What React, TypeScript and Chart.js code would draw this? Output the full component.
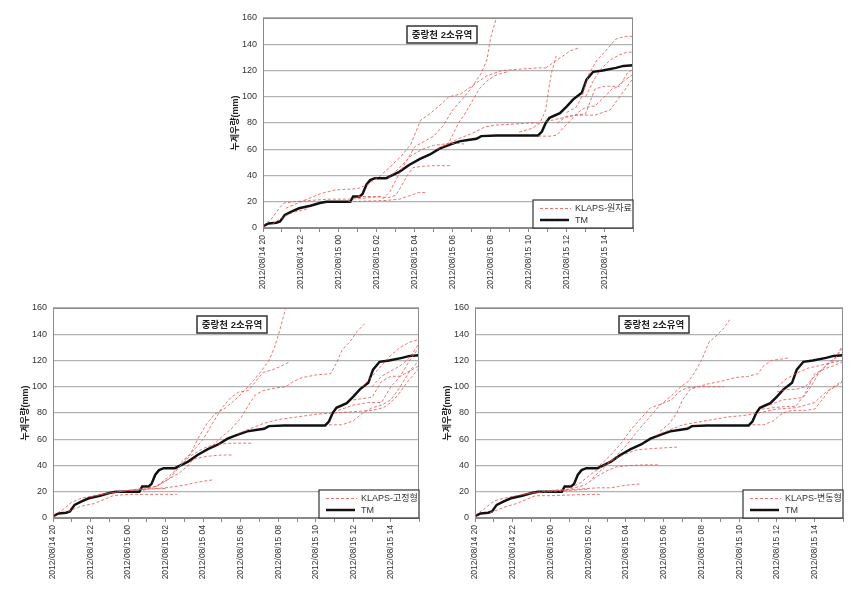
import React, { useEffect, useRef } from 'react';
import { Chart, registerables } from 'chart.js';

Chart.register(...registerables);

// ---- data ----
const panelTitle = '중랑천 2소유역';
const yAxisTitle = '누계우량(mm)';
const startDay = 14;
const startHour = 20;
const xMaxHours = 19.5;
const yMin = 0;
const yMax = 160;
const yStep = 20;

// observed (TM): [hours since 2012/08/14 20:00, mm]
const tmSeries: [number, number][] = [
  [0, 1.5], [0.3, 3.5], [0.7, 4], [0.9, 5], [1.15, 10], [1.5, 12.5], [1.9, 15], [2.5, 17],
  [3.0, 19], [3.35, 20], [4.6, 20], [4.75, 24], [5.1, 24], [5.25, 26], [5.45, 33], [5.65, 36.5],
  [5.9, 38], [6.5, 38], [6.85, 40.5], [7.2, 43], [7.7, 48], [8.25, 52.5], [8.8, 56], [9.3, 60.5],
  [9.85, 63.5], [10.35, 66], [10.8, 67], [11.25, 68], [11.5, 70], [12.3, 70.5], [14.5, 70.5],
  [14.7, 73.5], [14.9, 80], [15.1, 84], [15.65, 87.5], [16.0, 92.5], [16.35, 98], [16.8, 103],
  [17.05, 113], [17.4, 119], [17.9, 120], [18.6, 122], [19.0, 123.5], [19.5, 124],
];

// KLAPS-원자료 forecasts
const rawForecasts: [number, number][][] = [
  [[0, 2], [0.4, 6], [0.8, 14], [1.1, 19], [1.6, 20], [2.5, 21], [3.5, 22], [4.5, 22], [5.5, 23], [6.2, 24]],
  [[0.5, 3], [1.0, 8], [1.6, 12], [2.2, 14], [2.4, 15]],
  [[1.2, 15], [2, 20], [3, 26], [3.8, 29], [5, 30], [5.5, 33], [6.2, 40], [6.8, 48], [7.3, 55], [7.8, 64],
   [8.3, 82], [8.7, 86], [9.2, 92], [9.8, 100], [10.4, 102], [11, 108], [11.8, 116], [12.6, 120],
   [13.5, 121], [14.5, 122], [14.9, 122]],
  [[4.5, 20], [5.5, 20.5], [6.5, 21], [7.2, 22], [7.6, 24], [8.2, 27], [8.6, 27]],
  [[5, 24], [6, 24], [6.6, 23], [7, 25], [7.3, 32], [7.6, 40], [7.9, 46], [8.4, 47], [9, 47.5], [9.85, 47.5]],
  [[6.3, 22], [6.7, 28], [7.2, 42], [7.6, 52], [8.0, 62], [8.5, 66], [9, 70], [9.5, 78], [10, 90],
   [10.5, 98], [11, 107], [11.5, 118], [11.8, 128], [12, 145], [12.3, 160]],
  [[6.6, 38], [7.2, 46], [7.8, 55], [8.4, 60], [9, 63], [9.6, 64], [10.2, 64.5], [10.6, 64]],
  [[9.2, 60], [9.8, 65], [10.3, 80], [10.6, 86], [11, 96], [11.4, 106], [11.8, 112], [12.2, 116],
   [12.6, 118], [12.9, 119]],
  [[9.6, 63], [10.3, 68], [11, 72], [11.7, 77], [12.3, 78.5], [13, 79], [14, 80], [14.6, 80], [15.2, 82],
   [15.8, 84], [16.5, 86], [17.5, 86], [18.3, 90], [18.8, 100], [19.5, 114]],
  [[13.5, 73], [14.2, 76], [14.6, 80], [14.9, 90], [15.05, 105], [15.2, 118], [15.45, 131]],
  [[14.5, 70], [15.2, 70], [15.5, 71], [15.8, 76], [16.2, 82], [16.6, 88], [17, 92], [17.5, 93], [18, 100],
   [18.4, 106], [18.6, 107], [19, 112], [19.5, 117]],
  [[15.5, 80], [16, 85], [16.5, 86], [17, 87], [17.5, 106], [18, 108], [18.8, 108], [19.2, 118], [19.5, 121]],
  [[16, 88], [16.5, 92], [16.8, 100], [17.2, 118], [17.6, 128], [18, 134], [18.6, 144], [19.1, 146], [19.5, 146]],
  [[17, 100], [17.4, 112], [17.8, 121], [18.3, 128], [18.8, 132], [19.2, 134], [19.5, 134]],
  [[14.9, 122], [15.3, 126], [15.7, 130], [16.2, 135], [16.6, 137]],
];

// KLAPS-고정형 forecasts
const fixedForecasts: [number, number][][] = [
  [[0, 2], [0.5, 6], [1.0, 12], [1.5, 15], [2.2, 17], [3, 19], [4, 21], [5, 22], [6, 22.5]],
  [[0.8, 5], [1.5, 9], [2.2, 11], [2.7, 14], [3.2, 17], [4, 18], [5, 18], [6, 18], [6.6, 18]],
  [[2, 16], [3, 19], [4, 21], [5, 22], [6, 23], [7, 25], [7.6, 27], [8, 28], [8.5, 29]],
  [[3.5, 20], [4.5, 22], [5.5, 24], [6.2, 30], [6.8, 35], [7.2, 40], [7.5, 45], [8.2, 47], [9, 48], [9.6, 48]],
  [[4.8, 21], [5.6, 25], [6.2, 32], [6.8, 40], [7.3, 47], [8, 53], [8.6, 56], [9.5, 57], [10.6, 57]],
  [[5.5, 24], [6.2, 30], [6.8, 40], [7.3, 48], [7.7, 60], [8.2, 72], [8.6, 79], [9.2, 84], [9.7, 90],
   [10.2, 97], [10.7, 105], [11.1, 112], [11.5, 120], [11.8, 130], [12.1, 144], [12.4, 160]],
  [[6.8, 42], [7.4, 50], [8, 60], [8.5, 72], [9, 84], [9.5, 92], [9.9, 96], [10.4, 97], [10.8, 104],
   [11.2, 111], [11.7, 113], [12.2, 116], [12.6, 119]],
  [[8.5, 55], [9, 62], [9.5, 68], [10, 76], [10.5, 88], [10.8, 94], [11.2, 97], [11.8, 99], [12.4, 100],
   [12.8, 104], [13.3, 107], [14, 109], [14.8, 110], [15.1, 118], [15.4, 128], [15.8, 134], [16.2, 142], [16.6, 148]],
  [[9.8, 64], [10.5, 68], [11.2, 72], [12, 75], [13, 77], [14, 79], [15, 80], [16, 81], [17, 82], [17.6, 84],
   [18, 88], [18.4, 94], [18.9, 104], [19.5, 114]],
  [[14.7, 71], [15.4, 71], [16, 74], [16.5, 80], [17, 84], [17.5, 86], [18, 90], [18.5, 100], [19, 112], [19.5, 116]],
  [[15.2, 82], [16, 86], [16.8, 88], [17.5, 88], [18, 100], [18.5, 108], [19, 112], [19.5, 120]],
  [[16, 90], [16.5, 91], [17, 92], [17.5, 104], [18, 108], [18.5, 108], [19, 120], [19.5, 130]],
  [[16.5, 100], [17, 108], [17.5, 116], [18, 124], [18.5, 130], [19, 134], [19.5, 136]],
  [[17, 100], [17.5, 108], [18, 112], [18.5, 116], [19, 122], [19.5, 133]],
];

// KLAPS-변동형 forecasts
const variableForecasts: [number, number][][] = [
  [[0, 2], [0.5, 7], [1, 13], [1.5, 15], [2.2, 17], [3, 19], [4, 20], [5, 21], [6, 22]],
  [[0.8, 4], [1.5, 8], [2.2, 11], [2.7, 14], [3.2, 17], [4, 17], [5, 17.5], [6, 18], [6.7, 18]],
  [[2.5, 18], [3.5, 20], [4.5, 21], [5.5, 22], [6.5, 23], [7.2, 23], [7.6, 24], [8, 25], [8.8, 26]],
  [[4, 21], [5, 22], [5.8, 25], [6.5, 32], [7, 36], [7.5, 39], [8.2, 40], [9, 40.5], [9.7, 40.5]],
  [[4.8, 21], [5.6, 27], [6.2, 34], [6.8, 40], [7.4, 45], [8, 49], [8.6, 52], [9.5, 53], [10.7, 54]],
  [[6.2, 30], [6.8, 38], [7.4, 46], [8, 55], [8.6, 66], [9.2, 76], [9.8, 86], [10.4, 93], [10.9, 100],
   [11.3, 104], [11.6, 110], [12.0, 120], [12.4, 134], [12.8, 139], [13.2, 145], [13.5, 151]],
  [[6.6, 40], [7.2, 48], [7.8, 58], [8.3, 68], [8.8, 76], [9.3, 84], [9.9, 87], [10.4, 90], [10.8, 96],
   [11.2, 99], [11.8, 100], [12.3, 100], [13.2, 100]],
  [[9.8, 66], [10.3, 72], [10.7, 80], [11, 90], [11.4, 98], [11.8, 100], [12.3, 102], [13, 104], [13.8, 107],
   [14.5, 108], [15, 110], [15.3, 116], [15.7, 120], [16.2, 121], [16.6, 122]],
  [[9.6, 63], [10.3, 67], [11, 71], [11.8, 73], [12.6, 75], [13.4, 77], [14.2, 78], [15, 80], [16, 83],
   [17, 84], [18, 88], [18.6, 96], [19.1, 100], [19.5, 104]],
  [[14.7, 71], [15.3, 71], [15.8, 74], [16.3, 80], [16.8, 82], [17.5, 82], [18, 83], [18.4, 90], [18.8, 98],
   [19.2, 102], [19.5, 105]],
  [[15.2, 83], [15.8, 84], [16.5, 85], [17, 85], [17.5, 95], [18, 110], [18.6, 114], [19, 116], [19.5, 119]],
  [[15.6, 86], [16.3, 90], [17, 91], [17.4, 92], [17.8, 100], [18.2, 110], [18.7, 118], [19.1, 122], [19.5, 132]],
  [[16, 96], [16.5, 98], [17, 98], [17.5, 100], [18, 108], [18.6, 116], [19, 120], [19.5, 130]],
  [[16, 100], [16.5, 106], [17, 110], [17.6, 114], [18.2, 116], [18.8, 118], [19.5, 120]],
];

// ---- helpers ----
const FONT = "'Liberation Sans', 'Noto Sans CJK KR', sans-serif";
const RED = 'rgba(228, 80, 80, 0.78)';

function hourLabel(h: number): string {
  if (!Number.isInteger(h) || h % 2 !== 0) return '';
  const t = startHour + h;
  const d = startDay + Math.floor(t / 24);
  const hh = t % 24;
  return `2012/08/${d} ${String(hh).padStart(2, '0')}`;
}

const overlayPlugin = {
  id: 'overlay',
  afterDatasetsDraw(chart: any, _args: any, opts: any) {
    const { ctx, chartArea: a } = chart;
    ctx.save();
    // plot frame
    ctx.strokeStyle = '#8a8a8a';
    ctx.lineWidth = 1;
    ctx.strokeRect(a.left + 0.5, a.top + 0.5, a.right - a.left - 1, a.bottom - a.top - 1);

    // title box
    const tw = 70, th = 17;
    const tx = a.left + 144, ty = a.top + 8;
    ctx.fillStyle = '#fff';
    ctx.fillRect(tx, ty, tw, th);
    ctx.strokeStyle = '#333';
    ctx.lineWidth = 1.5;
    ctx.strokeRect(tx, ty, tw, th);
    ctx.fillStyle = '#222';
    ctx.font = `bold 9.5px ${FONT}`;
    ctx.textAlign = 'center';
    ctx.textBaseline = 'middle';
    ctx.fillText(opts.title, tx + tw / 2, ty + th / 2 + 0.5);

    // legend box
    const lw = 100, lh = 28;
    const lx = a.right - lw, ly = a.bottom - lh;
    ctx.fillStyle = '#fff';
    ctx.fillRect(lx, ly, lw, lh);
    ctx.strokeStyle = '#333';
    ctx.lineWidth = 1.2;
    ctx.strokeRect(lx, ly, lw, lh);
    ctx.strokeStyle = RED;
    ctx.lineWidth = 1;
    ctx.setLineDash([3, 2]);
    ctx.beginPath();
    ctx.moveTo(lx + 7, ly + 8.5);
    ctx.lineTo(lx + 38, ly + 8.5);
    ctx.stroke();
    ctx.setLineDash([]);
    ctx.strokeStyle = '#111';
    ctx.lineWidth = 2.5;
    ctx.beginPath();
    ctx.moveTo(lx + 7, ly + 20);
    ctx.lineTo(lx + 36, ly + 20);
    ctx.stroke();
    ctx.fillStyle = '#333';
    ctx.font = `9px ${FONT}`;
    ctx.textAlign = 'left';
    ctx.fillText(opts.legendLabel, lx + 42, ly + 9);
    ctx.fillText('TM', lx + 42, ly + 20.5);
    ctx.restore();
  },
};

type PanelProps = {
  left: number;
  top: number;
  width: number;
  height: number;
  padRight: number;
  xHeight: number;
  forecasts: [number, number][][];
  legendLabel: string;
};

function Panel(p: PanelProps) {
  const ref = useRef<HTMLCanvasElement | null>(null);
  useEffect(() => {
    if (!ref.current) return;
    const redSets = p.forecasts.map((s, i) => ({
      label: i === 0 ? p.legendLabel : `${p.legendLabel} ${i + 1}`,
      data: s.map(([x, y]) => ({ x, y })),
      borderColor: RED,
      borderWidth: 1,
      borderDash: [3, 2],
      pointRadius: 0,
      fill: false,
      tension: 0,
    }));
    const tmSet = {
      label: 'TM',
      data: tmSeries.map(([x, y]) => ({ x, y })),
      borderColor: '#111',
      borderWidth: 2.5,
      pointRadius: 0,
      fill: false,
      tension: 0,
    };
    const chart = new Chart(ref.current, {
      type: 'line',
      data: { datasets: [...redSets, tmSet] as any },
      plugins: [overlayPlugin as any],
      options: {
        animation: false,
        responsive: false,
        devicePixelRatio: 1,
        layout: { padding: { left: 20, top: 13, right: p.padRight, bottom: 0 } },
        plugins: {
          legend: { display: false },
          tooltip: { enabled: false },
          overlay: { title: panelTitle, legendLabel: p.legendLabel },
        } as any,
        scales: {
          x: {
            type: 'linear',
            min: 0,
            max: xMaxHours,
            afterFit: (s: any) => { s.height = p.xHeight; s.paddingLeft = 0; s.paddingRight = 0; },
            grid: { display: true, drawOnChartArea: false, drawTicks: true, tickLength: 4, color: '#888' },
            border: { display: true, color: '#888' },
            ticks: {
              stepSize: 1,
              autoSkip: false,
              minRotation: 90,
              maxRotation: 90,
              padding: 3,
              color: '#333',
              font: { family: FONT, size: 8.5 },
              callback: (v: any) => hourLabel(Number(v)),
            },
          },
          y: {
            type: 'linear',
            min: yMin,
            max: yMax,
            afterFit: (s: any) => { s.width = 33; s.paddingTop = 0; s.paddingBottom = 0; },
            grid: { color: '#b2b2b2', lineWidth: 1.3, drawTicks: false },
            border: { display: false },
            ticks: {
              stepSize: yStep,
              padding: 6,
              color: '#333',
              font: { family: FONT, size: 9 },
            },
            title: {
              display: true,
              text: yAxisTitle,
              color: '#222',
              font: { family: FONT, size: 9, weight: 'bold' },
              padding: { top: 0, bottom: 0 },
            },
          },
        },
      } as any,
    });
    return () => chart.destroy();
  }, []);
  return (
    <div style={{ position: 'absolute', left: p.left, top: p.top, width: p.width, height: p.height }}>
      <canvas ref={ref} width={p.width} height={p.height} style={{ width: p.width, height: p.height, display: 'block' }} />
    </div>
  );
}

export default function App() {
  return (
    <div style={{ position: 'absolute', left: 0, top: 0, width: 851, height: 604, overflow: 'hidden', background: '#fff' }}>
      <Panel left={210} top={5} width={430} height={300} padRight={7} xHeight={77}
        forecasts={rawForecasts} legendLabel="KLAPS-원자료" />
      <Panel left={0} top={295} width={430} height={300} padRight={11} xHeight={77}
        forecasts={fixedForecasts} legendLabel="KLAPS-고정형" />
      <Panel left={422} top={295} width={429} height={300} padRight={8} xHeight={77}
        forecasts={variableForecasts} legendLabel="KLAPS-변동형" />
    </div>
  );
}
